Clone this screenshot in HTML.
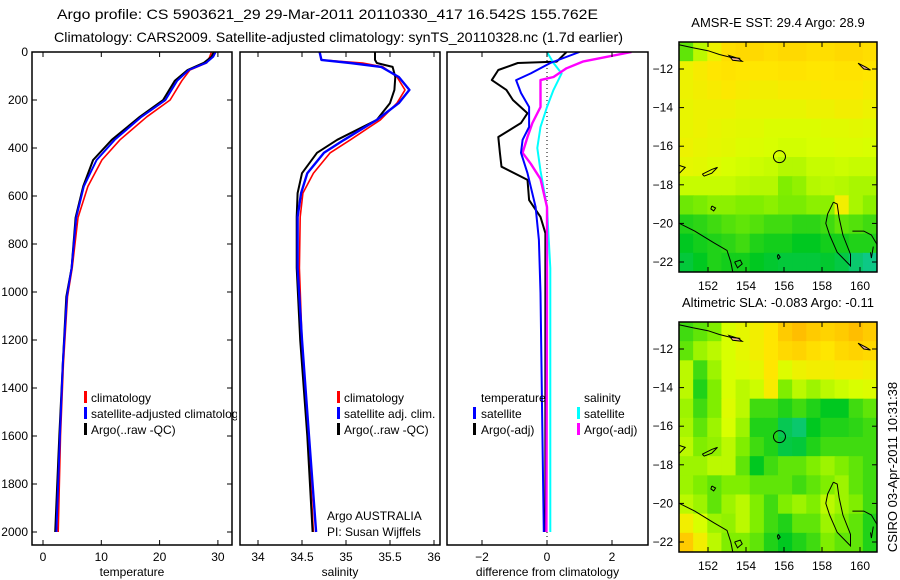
<!DOCTYPE html>
<html><head><meta charset="utf-8">
<style>
html,body{margin:0;padding:0;background:#fff;}
svg{display:block;font-family:"Liberation Sans",sans-serif;}
</style></head>
<body>
<svg id="fig" width="900" height="580" viewBox="0 0 900 580" xmlns="http://www.w3.org/2000/svg">
  <rect x="0" y="0" width="900" height="580" fill="#fff"/>
  <text x="57" y="19" font-size="14" textLength="541" lengthAdjust="spacingAndGlyphs">Argo profile: CS 5903621_29 29-Mar-2011 20110330_417 16.542S 155.762E</text>
  <text x="54" y="42" font-size="14" textLength="569" lengthAdjust="spacingAndGlyphs">Climatology: CARS2009. Satellite-adjusted climatology: synTS_20110328.nc (1.7d earlier)</text>
  <g id="panels"></g>
  <g id="maps"></g>
  <text transform="translate(897,467) rotate(-90)" text-anchor="middle" font-size="13">CSIRO 03-Apr-2011 10:31:38</text>
</svg>
<script>
// ---------- data ----------
const tDepths = [0,20,45,75,120,200,270,366,450,560,690,900,1020,1300,1600,2000];
const tempClim = [28.9,28.6,28.1,25.2,23.8,21.8,17.8,13.2,10.1,7.7,6.0,5.0,4.2,3.5,3.0,2.6];
const tempSat  = [29.6,29.2,28.0,25.0,23.0,21.0,16.9,12.3,9.2,7.0,5.7,4.9,4.1,3.4,2.9,2.3];
const tempArgo = [29.3,28.9,27.6,24.8,22.6,20.6,16.6,11.8,8.6,6.9,5.6,4.9,4.0,3.4,2.8,2.1];

const sDepths = [0,33,46,62,104,158,213,283,366,420,505,588,687,900,1200,1600,2000];
const salClim = [34.70,34.72,35.19,35.42,35.58,35.67,35.58,35.39,35.05,34.82,34.63,34.51,34.48,34.47,34.50,34.57,34.63];
const salSat  = [34.70,34.72,35.05,35.40,35.60,35.72,35.60,35.35,34.98,34.75,34.56,34.49,34.45,34.45,34.50,34.58,34.66];
const salArgo = [35.33,35.33,35.35,35.53,35.56,35.55,35.50,35.35,34.90,34.67,34.50,34.45,34.44,34.44,34.48,34.56,34.62];

const dTempArgoDepths = [0,40,46,75,117,158,200,255,296,354,420,478,533,617,687,755,900,1200,1600,2000];
const dTempArgo = [0.6,0.3,-0.9,-1.5,-1.7,-1.25,-1.05,-0.6,-0.8,-1.5,-1.45,-1.4,-0.6,-0.55,-0.2,-0.05,-0.05,-0.05,-0.05,-0.05];
const dTempSatDepths = [0,46,89,117,171,229,312,366,420,505,646,783,1004,1500,2000];
const dTempSat = [1.0,0.1,-0.5,-0.95,-0.8,-0.55,-0.55,-0.75,-0.8,-0.6,-0.35,-0.25,-0.2,-0.15,-0.1];
const dSalSatDepths = [0,46,89,158,229,312,400,495,646,900,1500,2000];
const dSalSat = [0,0.2,0.45,0.2,0,-0.2,-0.3,-0.2,0,0.1,0.1,0.1];
const dSalArgoDepths = [0,40,68,104,117,229,296,354,420,466,529,646,1000,2000];
const dSalArgo = [2.6,1.1,0.6,0.2,-0.2,-0.2,-0.45,-0.6,-0.75,-0.5,-0.2,0,0,-0.02];

const depthTicks = [0,200,400,600,800,1000,1200,1400,1600,1800,2000];
const tempTicks = [0,10,20,30];
const salTicks = [34,34.5,35,35.5,36];
const salTickLabels = ["34","34.5","35","35.5","36"];
const diffTicks = [-2,0,2];

const latTicks = [-12,-14,-16,-18,-20,-22];
const lonTicks = [152,154,156,158,160];

const sstGrid = [
 [.40,.55,.68,.78,.80,.80,.78,.80,.80,.78,.78,.80,.80,.78],
 [.68,.72,.75,.76,.75,.75,.75,.76,.76,.75,.75,.76,.76,.75],
 [.68,.70,.72,.74,.72,.70,.70,.72,.72,.72,.74,.74,.74,.72],
 [.66,.68,.68,.68,.66,.66,.66,.66,.66,.68,.68,.70,.70,.68],
 [.66,.68,.66,.65,.64,.63,.61,.61,.61,.61,.63,.63,.64,.63],
 [.68,.66,.65,.64,.62,.61,.60,.59,.59,.60,.60,.61,.61,.60],
 [.65,.64,.62,.60,.59,.58,.57,.54,.54,.57,.57,.58,.57,.57],
 [.57,.57,.57,.57,.55,.54,.54,.45,.48,.54,.55,.54,.52,.52],
 [.42,.44,.47,.47,.45,.45,.47,.44,.44,.47,.47,.70,.52,.47],
 [.30,.32,.35,.38,.40,.38,.35,.35,.32,.32,.35,.40,.38,.35],
 [.25,.28,.30,.32,.35,.30,.28,.28,.25,.25,.28,.28,.30,.30],
 [.20,.25,.30,.28,.28,.25,.22,.20,.20,.20,.22,.18,.10,.05]
];
const slaGrid = [
 [.35,.40,.45,.60,.65,.70,.75,.85,.90,.85,.82,.85,.90,.85],
 [.40,.50,.55,.60,.65,.70,.75,.80,.82,.78,.75,.80,.82,.80],
 [.55,.35,.50,.60,.62,.65,.75,.62,.68,.70,.70,.72,.72,.70],
 [.55,.30,.45,.60,.55,.58,.72,.45,.55,.50,.55,.58,.60,.62],
 [.50,.35,.45,.62,.55,.35,.35,.30,.35,.30,.25,.25,.35,.40],
 [.52,.40,.50,.60,.50,.30,.30,.15,.10,.25,.30,.30,.32,.35],
 [.55,.45,.48,.55,.45,.35,.30,.18,.20,.30,.35,.35,.35,.35],
 [.50,.50,.55,.55,.40,.25,.35,.40,.40,.45,.50,.45,.40,.35],
 [.50,.45,.40,.45,.45,.40,.40,.40,.35,.40,.45,.50,.40,.35],
 [.55,.50,.40,.50,.55,.45,.35,.45,.50,.45,.55,.50,.45,.35],
 [.70,.60,.50,.48,.55,.45,.35,.30,.40,.40,.50,.45,.40,.30],
 [.85,.70,.55,.45,.45,.40,.30,.25,.30,.35,.45,.40,.40,.30]
];

const coastLines = [
 [[150.5,-10.75],[151.2,-10.9],[152.0,-11.05],[152.6,-11.25],[153.2,-11.4],[153.7,-11.45]],
 [[150.5,-17.0],[150.8,-17.1],[150.5,-17.4]],
 [[151.7,-17.45],[152.2,-17.2],[152.5,-17.1],[152.2,-17.4],[151.8,-17.55],[151.7,-17.45]],
 [[152.2,-19.1],[152.4,-19.2],[152.3,-19.35],[152.15,-19.25],[152.2,-19.1]],
 [[150.5,-20.0],[151.3,-20.4],[152.3,-21.0],[153.0,-21.4],[153.2,-22.0],[153.3,-22.5]],
 [[153.4,-22.0],[153.7,-21.9],[153.8,-22.1],[153.55,-22.3],[153.4,-22.0]],
 [[155.7,-21.6],[155.8,-21.75],[155.7,-21.85],[155.65,-21.7],[155.7,-21.6]],
 [[158.6,-18.9],[158.3,-19.5],[158.2,-20.0],[158.4,-20.6],[158.8,-21.5],[159.5,-22.2],[159.5,-21.6],[159.1,-20.6],[158.9,-19.7],[158.8,-19.0],[158.6,-18.9]],
 [[159.6,-20.4],[160.2,-20.4],[160.6,-20.6],[160.9,-21.1]],
 [[160.7,-21.2],[160.6,-21.8],[160.55,-21.5]]
];
const islands = [
 [[153.1,-11.3],[153.6,-11.45],[153.8,-11.6],[153.3,-11.55],[153.1,-11.3]],
 [[159.9,-11.7],[160.3,-11.9],[160.55,-12.05],[160.2,-12.0],[159.9,-11.7]]
];
const argoLon = 155.762, argoLat = -16.542;

// ---------- helpers ----------
const NS = "http://www.w3.org/2000/svg";
function el(tag, attrs, parent){ const e=document.createElementNS(NS,tag); for(const k in attrs) e.setAttribute(k,attrs[k]); parent.appendChild(e); return e; }
const panels = document.getElementById('panels');
const maps = document.getElementById('maps');

const TOP=52, BOT=545;
function yDepth(d){ return 52 + 0.24*d; }

const P = [
 {name:'temperature', x0:32, x1:232, f:v=>43+5.83*v},
 {name:'salinity', x0:240, x1:440, f:v=>258+88*(v-34)},
 {name:'difference', x0:447, x1:648, f:v=>547+32.5*v}
];

function drawLine(g, panel, depths, vals, color, w, name){
  let pts = depths.map((d,i)=>panel.f(vals[i]).toFixed(1)+','+yDepth(d).toFixed(1)).join(' ');
  const pl = el('polyline',{points:pts,fill:'none',stroke:color,'stroke-width':w,'stroke-linejoin':'round'},g);
  
  
}
function legendBar(g,x,y,color,name){
  const r = el('rect',{x:x,y:y-6,width:3,height:12,fill:color},g);
  
  
}
function txt(g,x,y,s,size,anchor,name){
  const t = el('text',{x:x,y:y,'font-size':size,'text-anchor':anchor||'start'},g);
  t.textContent=s;
  
  
  return t;
}

P.forEach((p,pi)=>{
  const g = el('g',{},panels);
  
  
  const bg = el('rect',{x:p.x0-3,y:TOP,width:p.x1-p.x0+6,height:BOT-TOP,fill:'#fff'},g);
  
  
  const cid='clip'+pi;
  const cp = el('clipPath',{id:cid},g);
  el('rect',{x:p.x0,y:TOP,width:p.x1-p.x0,height:BOT-TOP},cp);
  const plot = el('g',{'clip-path':'url(#'+cid+')'},g);
  
  
  const ticks = pi===0?tempTicks:(pi===1?salTicks:diffTicks);
  ticks.forEach((t,i)=>{
    const x=p.f(t);
    el('line',{x1:x,y1:BOT,x2:x,y2:BOT-5,stroke:'#000','stroke-width':1},g);
    el('line',{x1:x,y1:TOP,x2:x,y2:TOP+5,stroke:'#000','stroke-width':1},g);
    txt(g,x,561,pi===1?salTickLabels[i]:String(t).replace('-','\u2212'),12,'middle','x-tick-label');
  });
  if(pi===0){
    depthTicks.forEach(d=>{
      const y=yDepth(d);
      el('line',{x1:p.x0,y1:y,x2:p.x0+5,y2:y,stroke:'#000','stroke-width':1},g);
      el('line',{x1:p.x1,y1:y,x2:p.x1-5,y2:y,stroke:'#000','stroke-width':1},g);
      txt(g,28,y+4,String(d),12,'end','y-tick-label');
    });
  }
  if(pi===2){
    const z=el('line',{x1:p.f(0),y1:TOP,x2:p.f(0),y2:BOT,stroke:'#000','stroke-width':1,'stroke-dasharray':'1,3'},plot);
    
    
  }
  const lbl = ['temperature','salinity','difference from climatology'][pi];
  txt(g,(p.x0+p.x1)/2,576,lbl,12,'middle','x-axis-title');
  p.g=g; p.plot=plot;
});

drawLine(P[0].plot,P[0],tDepths,tempClim,'#ff0000',1.6,'temp-climatology-line');
drawLine(P[0].plot,P[0],tDepths,tempArgo,'#000',2,'temp-argo-line');
drawLine(P[0].plot,P[0],tDepths,tempSat,'#0000ff',2,'temp-satellite-line');
drawLine(P[1].plot,P[1],sDepths,salClim,'#ff0000',1.6,'sal-climatology-line');
drawLine(P[1].plot,P[1],sDepths,salArgo,'#000',2,'sal-argo-line');
drawLine(P[1].plot,P[1],sDepths,salSat,'#0000ff',2.4,'sal-satellite-line');
drawLine(P[2].plot,P[2],dTempArgoDepths,dTempArgo,'#000',2,'diff-temp-argo-line');
drawLine(P[2].plot,P[2],dSalSatDepths,dSalSat,'#00ffff',2,'diff-sal-satellite-line');
drawLine(P[2].plot,P[2],dSalArgoDepths,dSalArgo,'#ff00ff',2.4,'diff-sal-argo-line');
drawLine(P[2].plot,P[2],dTempSatDepths,dTempSat,'#0000ff',2,'diff-temp-satellite-line');

const lg1 = el('g',{},panels); panels.insertBefore(lg1,P[1].g);
 
legendBar(lg1,84,397,'#ff0000','legend-swatch-climatology'); txt(lg1,91,402,'climatology',12,'start','legend-entry');
legendBar(lg1,84,413,'#0000ff','legend-swatch-satellite'); txt(lg1,91,418,'satellite-adjusted climatology',12,'start','legend-entry');
legendBar(lg1,84,429,'#000','legend-swatch-argo'); txt(lg1,91,434,'Argo(..raw -QC)',12,'start','legend-entry');

const lg2 = el('g',{},P[1].g);
 
legendBar(lg2,337,397,'#ff0000','legend-swatch-climatology'); txt(lg2,344,402,'climatology',12,'start','legend-entry');
legendBar(lg2,337,413,'#0000ff','legend-swatch-satellite'); txt(lg2,344,418,'satellite adj. clim.',12,'start','legend-entry');
legendBar(lg2,337,429,'#000','legend-swatch-argo'); txt(lg2,344,434,'Argo(..raw -QC)',12,'start','legend-entry');
txt(lg2,327,520,'Argo AUSTRALIA',12,'start','data-centre-label');
txt(lg2,327,536,'PI: Susan Wijffels',12,'start','pi-label');

const lg3 = el('g',{},P[2].g);
 
txt(lg3,481,402,'temperature',12,'start','legend-heading');
legendBar(lg3,473,413,'#0000ff','legend-swatch-temp-satellite'); txt(lg3,481,418,'satellite',12,'start','legend-entry');
legendBar(lg3,473,429,'#000','legend-swatch-temp-argo'); txt(lg3,481,434,'Argo(-adj)',12,'start','legend-entry');
txt(lg3,584,402,'salinity',12,'start','legend-heading');
legendBar(lg3,577,413,'#00ffff','legend-swatch-sal-satellite'); txt(lg3,584,418,'satellite',12,'start','legend-entry');
legendBar(lg3,577,429,'#ff00ff','legend-swatch-sal-argo'); txt(lg3,584,434,'Argo(-adj)',12,'start','legend-entry');

P.forEach(p=>{
  const f=el('rect',{x:p.x0,y:TOP,width:p.x1-p.x0,height:BOT-TOP,fill:'none',stroke:'#000','stroke-width':1.5},p.g);
   
});

// ---------- maps ----------
const stops=[[0,[16,200,160]],[0.25,[0,200,32]],[0.45,[128,238,0]],[0.6,[216,255,0]],[0.75,[255,230,0]],[0.9,[255,190,0]],[1,[232,128,0]]];
function cmap(v){
  for(let i=1;i<stops.length;i++){ if(v<=stops[i][0]){ const a=stops[i-1],b=stops[i]; const t=(v-a[0])/(b[0]-a[0]);
    return 'rgb('+a[1].map((c,k)=>Math.round(c+(b[1][k]-c)*t)).join(',')+')'; } }
  return 'rgb(232,128,0)';
}
function drawMap(grid, top, title, name){
  const X0=679,X1=877,Y0=top,Y1=top+230, y12=top+27;
  const lonX=lon=>708+(lon-152)*19;
  const latY=lat=>y12+(-12-lat)*19.3;
  const g=el('g',{},maps);
   
  const cid='mclip'+top;
  const cp=el('clipPath',{id:cid},g); el('rect',{x:X0,y:Y0,width:X1-X0,height:Y1-Y0},cp);
  const inner=el('g',{'clip-path':'url(#'+cid+')'},g);
  const nr=grid.length, nc=grid[0].length, cw=(X1-X0)/nc, ch=(Y1-Y0)/nr;
  grid.forEach((row,r)=>row.forEach((v,c)=>{
    const cell=el('rect',{x:(X0+c*cw).toFixed(2),y:(Y0+r*ch).toFixed(2),width:(cw+0.6).toFixed(2),height:(ch+0.6).toFixed(2),fill:cmap(v)},inner);
    
    
  }));
  islands.forEach(isl=>{
    const p=el('polygon',{points:isl.map(q=>lonX(q[0]).toFixed(1)+','+latY(q[1]).toFixed(1)).join(' '),fill:'#f0b090',stroke:'#000','stroke-width':1},inner);
     
  });
  coastLines.forEach(cl=>{
    const p=el('polyline',{points:cl.map(q=>lonX(q[0]).toFixed(1)+','+latY(q[1]).toFixed(1)).join(' '),fill:'none',stroke:'#000','stroke-width':1},inner);
     
  });
  const c=el('circle',{cx:lonX(argoLon),cy:latY(argoLat),r:6,fill:'none',stroke:'#000','stroke-width':1},inner);
   
  const fr=el('rect',{x:X0,y:Y0,width:X1-X0,height:Y1-Y0,fill:'none',stroke:'#000','stroke-width':1.5},g);
   
  latTicks.forEach(l=>{
    const y=latY(l);
    el('line',{x1:X0,y1:y,x2:X0+5,y2:y,stroke:'#000'},g);
    el('line',{x1:X1,y1:y,x2:X1-5,y2:y,stroke:'#000'},g);
    txt(g,673,y+4,'\u2212'+(-l),12,'end','lat-tick-label');
  });
  lonTicks.forEach(l=>{
    const x=lonX(l);
    el('line',{x1:x,y1:Y0,x2:x,y2:Y0+5,stroke:'#000'},g);
    el('line',{x1:x,y1:Y1,x2:x,y2:Y1-5,stroke:'#000'},g);
    txt(g,x,Y1+18,String(l),12,'middle','lon-tick-label');
  });
  txt(g,778,top-15,title,13,'middle','map-title');
}
drawMap(sstGrid,42,'AMSR-E SST: 29.4 Argo: 28.9','sst-map');
drawMap(slaGrid,322,'Altimetric SLA: -0.083 Argo: -0.11','sla-map');
</script>
</body></html>
